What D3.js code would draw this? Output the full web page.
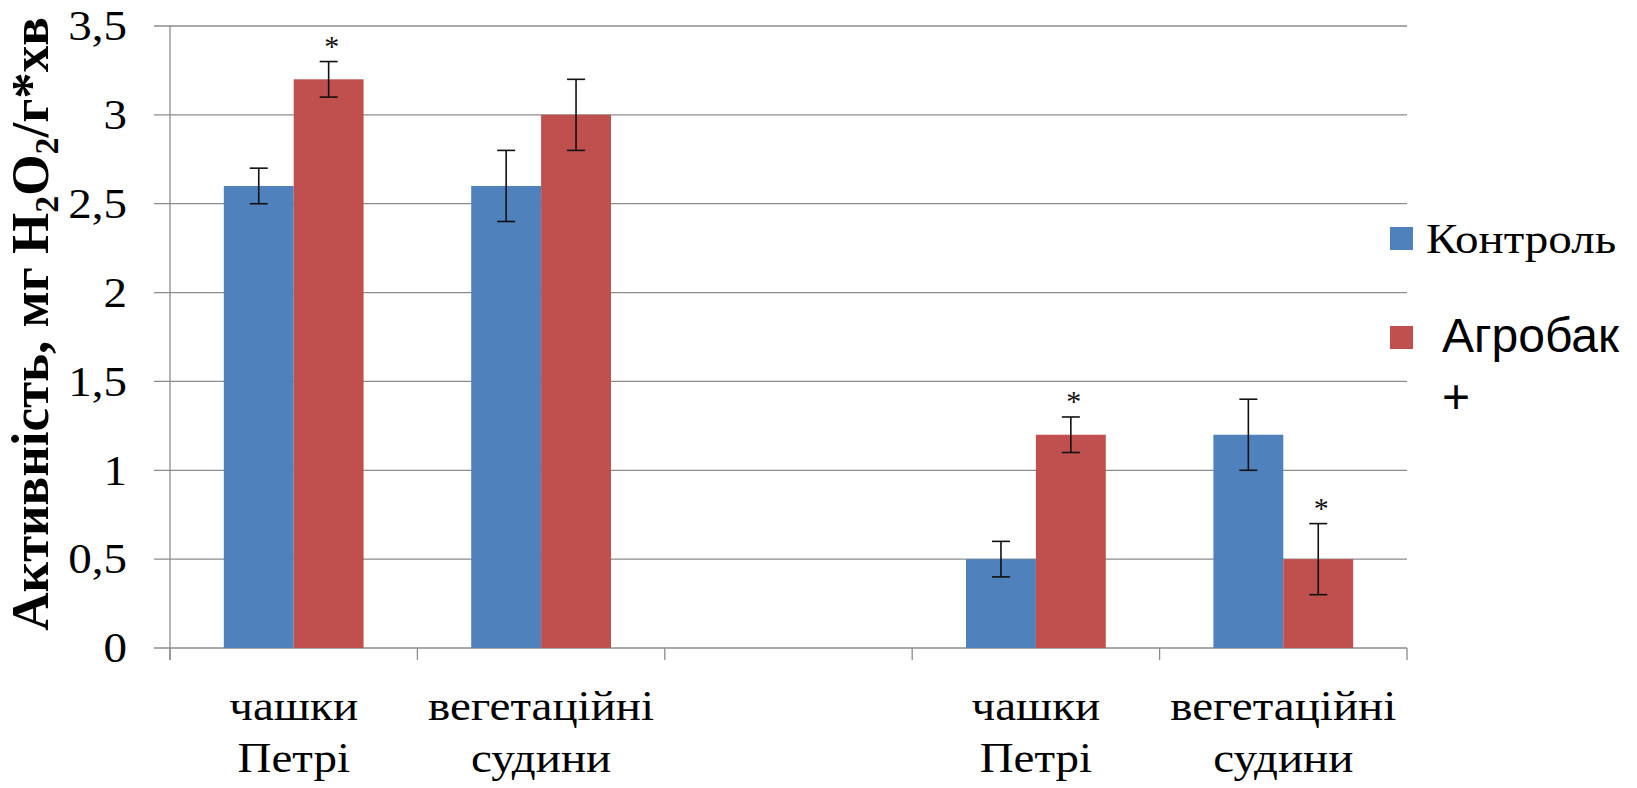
<!DOCTYPE html>
<html>
<head>
<meta charset="utf-8">
<script src="https://cdn.jsdelivr.net/npm/d3@7"></script>
<style>
	body { margin: 0; background: #fff; }
	svg { display: block; }
	.x-label { font-family: "Times New Roman", "Liberation Serif", Tinos, serif; font-size: 42px; }
</style>
</head>
<body>
<div id="chart"></div>
<script>

///////////////////////////////////////////////////////////////////////////
//////////////////////////////// Data /////////////////////////////////////
///////////////////////////////////////////////////////////////////////////

//Category labels (two lines each), the middle slot is empty
var categories = [
	["чашки", "Петрі"],
	["вегетаційні", "судини"],
	[],
	["чашки", "Петрі"],
	["вегетаційні", "судини"]
];

var seriesNames = ["Контроль", "Агробак +"];

var controlValues = [2.6, 2.6, null, 0.5, 1.2],
	controlErrors = [0.1, 0.2, null, 0.1, 0.2];

var agrobakValues = [3.2, 3.0, null, 1.2, 0.5],
	agrobakErrors = [0.1, 0.2, null, 0.1, 0.2];

//Significance marks (*) above the Агробак bars
var agrobakSignificant = [true, false, false, true, true];

var yTicks = [0, 0.5, 1, 1.5, 2, 2.5, 3, 3.5];

///////////////////////////////////////////////////////////////////////////
//////////////////////////// Set up the SVG ///////////////////////////////
///////////////////////////////////////////////////////////////////////////

var totalWidth = 1637,
	totalHeight = 788;

var margin = { top: 26, right: 230, bottom: 140, left: 170 };
var width = totalWidth - margin.left - margin.right,
	height = totalHeight - margin.top - margin.bottom;

var colors = ["#4F81BD", "#C0504D"];
var fontSerif = "Liberation Serif",
	fontSans = "Liberation Sans";
//The original picture is a little wider than tall, so the serif texts are stretched
var stretch = "scale(1.12,1)";

var svg = d3.select("#chart")
	.append("svg")
	.attr("width", totalWidth)
	.attr("height", totalHeight);

var g = svg.append("g")
	.attr("transform", "translate(" + margin.left + "," + margin.top + ")");

///////////////////////////////////////////////////////////////////////////
/////////////////////////////// Scales ////////////////////////////////////
///////////////////////////////////////////////////////////////////////////

var x0 = d3.scaleBand()
	.domain(d3.range(categories.length))
	.range([0, width])
	.padding(0);

var x1 = d3.scaleBand()
	.domain(d3.range(seriesNames.length))
	.range([0, x0.bandwidth()])
	.paddingInner(0)
	.paddingOuter(0.77);

var y = d3.scaleLinear()
	.domain([0, 3.5])
	.range([height, 0]);

///////////////////////////////////////////////////////////////////////////
///////////////////////////// Grid & axes /////////////////////////////////
///////////////////////////////////////////////////////////////////////////

//Horizontal gridlines, extending a little to the left of the axis as ticks
g.append("g").attr("class", "grid")
	.selectAll("line")
	.data(yTicks)
	.enter().append("line")
	.attr("x1", -16)
	.attr("x2", width)
	.attr("y1", function(d) { return y(d); })
	.attr("y2", function(d) { return y(d); })
	.style("stroke", "#8c8c8c")
	.style("stroke-width", 1.3);

//Y tick labels
g.append("g").attr("class", "y-labels")
	.selectAll("text")
	.data(yTicks)
	.enter().append("text")
	.attr("transform", function(d) { return "translate(-43," + y(d) + ") " + stretch; })
	.attr("dy", "0.34em")
	.style("text-anchor", "end")
	.style("font-family", fontSerif)
	.style("font-size", "42px")
	.style("fill", "#000")
	.text(function(d) { return String(d).replace(".", ","); });

//Vertical axis line
g.append("line")
	.attr("x1", 0).attr("x2", 0)
	.attr("y1", 0).attr("y2", height + 12)
	.style("stroke", "#8c8c8c")
	.style("stroke-width", 1.3);

//Category ticks below the baseline
var xTickPos = d3.range(categories.length + 1).map(function(i) {
	return i < categories.length ? x0(i) : width;
});
g.append("g").attr("class", "x-ticks")
	.selectAll("line")
	.data(xTickPos)
	.enter().append("line")
	.attr("x1", function(d) { return d; })
	.attr("x2", function(d) { return d; })
	.attr("y1", height)
	.attr("y2", height + 12)
	.style("stroke", "#8c8c8c")
	.style("stroke-width", 1.3);

///////////////////////////////////////////////////////////////////////////
//////////////////////////// Bars & errors ////////////////////////////////
///////////////////////////////////////////////////////////////////////////

var barData = [];
categories.forEach(function(c, i) {
	[controlValues, agrobakValues].forEach(function(vals, s) {
		if(vals[i] === null) return;
		var err = s === 0 ? controlErrors[i] : agrobakErrors[i];
		var sig = s === 1 ? agrobakSignificant[i] : false;
		barData.push({ cat: i, series: s, value: vals[i], err: err, sig: sig });
	});
});

var bars = g.append("g").attr("class", "bars")
	.selectAll("g")
	.data(barData)
	.enter().append("g")
	.attr("transform", function(d) { return "translate(" + (x0(d.cat) + x1(d.series)) + ",0)"; });

bars.append("rect")
	.attr("x", 0)
	.attr("width", x1.bandwidth())
	.attr("y", function(d) { return y(d.value); })
	.attr("height", function(d) { return height - y(d.value); })
	.style("fill", function(d) { return colors[d.series]; });

var cap = 9,
	cx = x1.bandwidth()/2;

//Error bar stem
bars.append("line")
	.attr("x1", cx).attr("x2", cx)
	.attr("y1", function(d) { return y(d.value + d.err); })
	.attr("y2", function(d) { return y(d.value - d.err); })
	.style("stroke", "#111")
	.style("stroke-width", 1.6);

//Caps
bars.selectAll(".cap")
	.data(function(d) { return [d.value + d.err, d.value - d.err]; })
	.enter().append("line")
	.attr("class", "cap")
	.attr("x1", cx - cap).attr("x2", cx + cap)
	.attr("y1", function(v) { return y(v); })
	.attr("y2", function(v) { return y(v); })
	.style("stroke", "#111")
	.style("stroke-width", 1.6);

//Significance stars
bars.filter(function(d) { return d.sig; })
	.append("text")
	.attr("x", cx + 3)
	.attr("y", function(d) { return y(d.value + d.err) - 6; })
	.style("text-anchor", "middle")
	.style("font-family", fontSerif)
	.style("font-size", "30px")
	.style("fill", "#111")
	.text("*");

///////////////////////////////////////////////////////////////////////////
////////////////////////////// Y axis title ///////////////////////////////
///////////////////////////////////////////////////////////////////////////

var title = svg.append("text")
	.attr("transform", "translate(48,324) rotate(-90)")
	.style("text-anchor", "middle")
	.style("font-family", fontSerif)
	.style("font-weight", "bold")
	.style("font-size", "53px")
	.style("fill", "#000");

title.append("tspan").text("Активність, мг H");
title.append("tspan").attr("dy", 10).style("font-size", "34px").text("2");
title.append("tspan").attr("dy", -10).text("O");
title.append("tspan").attr("dy", 10).style("font-size", "34px").text("2");
title.append("tspan").attr("dy", -10).text("/г*хв");

///////////////////////////////////////////////////////////////////////////
//////////////////////////////// Legend ///////////////////////////////////
///////////////////////////////////////////////////////////////////////////

var legend = svg.append("g").attr("class", "legend");

//Контроль
legend.append("rect")
	.attr("x", 1390).attr("y", 227)
	.attr("width", 23).attr("height", 23)
	.style("fill", colors[0]);
legend.append("text")
	.attr("transform", "translate(1426,253) " + stretch)
	.style("font-family", fontSerif)
	.style("font-size", "42px")
	.style("fill", "#000")
	.text(seriesNames[0]);

//Агробак + (wrapped on two lines)
legend.append("rect")
	.attr("x", 1390).attr("y", 326)
	.attr("width", 23).attr("height", 23)
	.style("fill", colors[1]);
var lt = legend.append("text")
	.attr("transform", "translate(1442,352)")
	.style("font-family", fontSans)
	.style("font-size", "48px")
	.style("fill", "#000");
seriesNames[1].split(" ").forEach(function(w, i) {
	lt.append("tspan")
		.attr("x", 0)
		.attr("dy", i === 0 ? 0 : 61)
		.text(w);
});

///////////////////////////////////////////////////////////////////////////
/////////////////////////// Category labels ///////////////////////////////
///////////////////////////////////////////////////////////////////////////

//One text per line, placed straight on the svg, font set through the stylesheet
var catLines = [];
categories.forEach(function(c, i) {
	c.forEach(function(line, j) { catLines.push({ cat: i, line: j, text: line }); });
});

svg.selectAll(".x-label")
	.data(catLines)
	.enter().append("text")
	.attr("class", "x-label")
	.attr("transform", function(d) {
		return "translate(" + (margin.left + x0(d.cat) + x0.bandwidth()/2) + "," +
			(margin.top + height + 72 + d.line * 52) + ") " + stretch;
	})
	.attr("text-anchor", "middle")
	.attr("fill", "#000")
	.text(function(d) { return d.text; });

</script>
</body>
</html>
